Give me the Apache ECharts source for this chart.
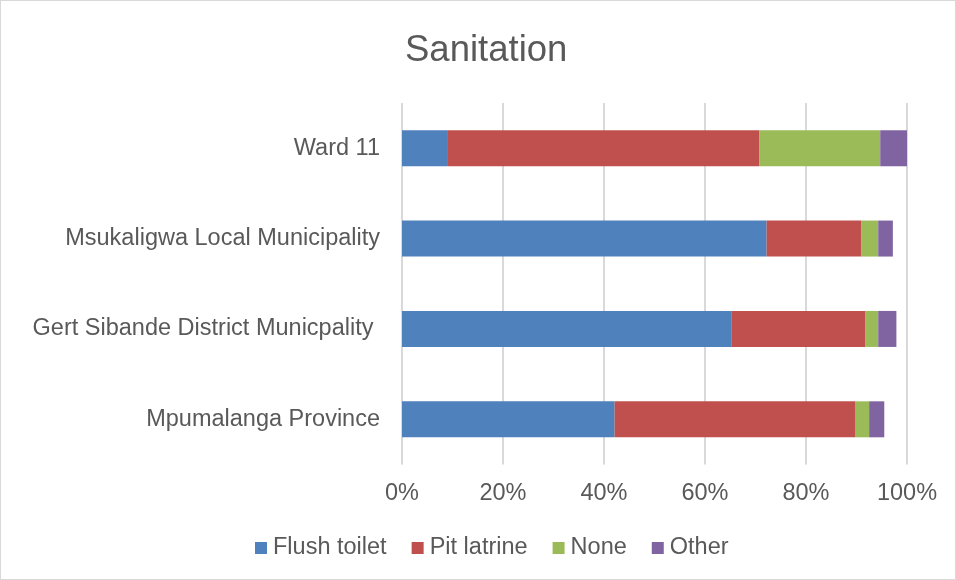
<!DOCTYPE html>
<html><head><meta charset="utf-8">
<script src="https://cdn.jsdelivr.net/npm/echarts@6/dist/echarts.min.js"></script>
<style>html,body{margin:0;padding:0;background:#fff}#c{width:956px;height:580px;box-sizing:border-box;border:1px solid #d9d9d9}</style>
</head><body><div id="c"></div>
<script>
const categories = ['Mpumalanga Province','Gert Sibande District Municpality ','Msukaligwa Local Municipality','Ward 11'];
const flushToilet = [42.1, 65.2, 72.2, 9.1];
const pitLatrine = [47.6, 26.5, 18.8, 61.7];
const none = [2.8, 2.6, 3.3, 23.9];
const other = [3.0, 3.6, 2.9, 5.3];
const xTicks = [0, 20, 40, 60, 80, 100];

const chart = echarts.init(document.getElementById('c'));
const font = 'Liberation Sans, Arial, sans-serif';
const fs = 23.5;
const mk = (name, data, color) => ({
  name, type: 'bar', stack: 'total', data, barWidth: 36,
  itemStyle: { color }, emphasis: { disabled: true }
});
chart.setOption({
  animation: false,
  textStyle: { fontFamily: font },
  title: { text: 'Sanitation', left: 399, top: 26,
    textStyle: { fontFamily: font, fontSize: 36.5, fontWeight: 'normal', color: '#595959' } },
  grid: { left: 401, right: 48, top: 102, bottom: 114.5 },
  legend: { bottom: 14, left: 249, itemWidth: 12, itemHeight: 12, itemGap: 25, icon: 'rect',
    textStyle: { fontFamily: font, fontSize: fs, color: '#595959', padding: [0,0,0,1] } },
  xAxis: { type: 'value', min: xTicks[0], max: xTicks[xTicks.length-1], interval: 20,
    axisLine: { show: false }, axisTick: { show: false },
    splitLine: { lineStyle: { color: '#d9d9d9', width: 2 } },
    axisLabel: { formatter: v => v + '%', fontFamily: font, fontSize: fs, color: '#595959', margin: 17 } },
  yAxis: { type: 'category', data: categories,
    axisLine: { show: false }, axisTick: { show: false },
    axisLabel: { fontFamily: font, fontSize: fs, color: '#595959', margin: 22 } },
  series: [
    mk('Flush toilet', flushToilet, '#4f81bd'),
    mk('Pit latrine', pitLatrine, '#c0504d'),
    mk('None', none, '#9bbb59'),
    mk('Other', other, '#8064a2')
  ]
});
</script></body></html>
